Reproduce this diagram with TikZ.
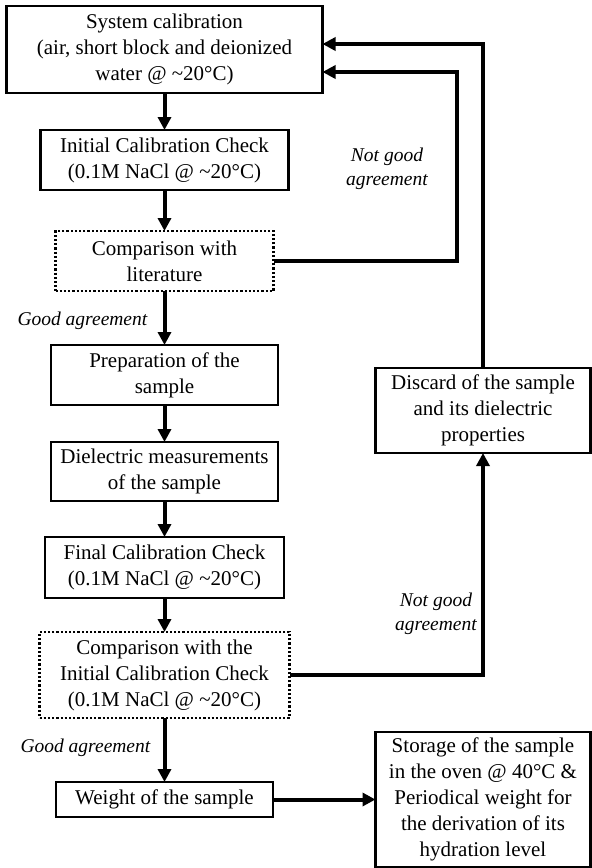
\documentclass[tikz,border=0pt]{standalone}
\usepackage{fontspec}
\setmainfont{Liberation Serif}
\usetikzlibrary{arrows.meta,positioning}

\begin{document}
\begin{tikzpicture}[
font=\fontsize{21}{26}\selectfont,
node distance=37pt,
box/.style={draw, line width=2.8pt, align=center, inner sep=3pt, outer sep=0pt},
dotbox/.style={box, dash pattern=on 2.2pt off 2pt},
lbl/.style={font=\fontsize{19.5}{24}\selectfont\itshape, align=center},
arr/.style={-{Triangle[length=13pt,width=13pt]}, line width=4pt}
]
\useasboundingbox (0pt,0pt) rectangle (592pt,-868pt);
\node[box, minimum width=316pt, minimum height=87pt] (sys) at (164.5pt,-49.5pt) {System calibration\\(air, short block and deionized\\water @ \textasciitilde20°C)};
\node[box, minimum width=248pt, minimum height=60pt, below=37pt of sys] (init) {Initial Calibration Check\\(0.1M NaCl @ \textasciitilde20°C)};
\node[dotbox, minimum width=218pt, minimum height=60pt, below=41pt of init] (lit) {Comparison with\\literature};
\node[box, minimum width=227pt, minimum height=60pt, below=54pt of lit] (prep) {Preparation of the\\sample};
\node[box, minimum width=227pt, minimum height=59pt, below=37pt of prep] (diel) {Dielectric measurements\\of the sample};
\node[box, minimum width=239pt, minimum height=61pt, below=36pt of diel] (final) {Final Calibration Check\\(0.1M NaCl @ \textasciitilde20°C)};
\node[dotbox, minimum width=250pt, minimum height=86pt, below=34pt of final] (cmp) {Comparison with the\\Initial Calibration Check\\(0.1M NaCl @ \textasciitilde20°C)};
\node[box, minimum width=217pt, minimum height=35pt, below=64pt of cmp] (weight) {Weight of the sample};
\node[box, minimum width=215pt, minimum height=135pt, right=102.5pt of weight] (store) {Storage of the sample\\in the oven @ 40°C \&\\Periodical weight for\\the derivation of its\\hydration level};
\node[box, minimum width=215pt, minimum height=85pt, right=97.5pt of prep, yshift=-35.5pt] (discard) {Discard of the sample\\and its dielectric\\properties};
\node[lbl] (nogood1) at (387pt,-169pt) {Not good\\agreement};
\node[lbl, anchor=west] (good1) at (14pt,-321pt) {Good agreement};
\node[lbl] (nogood2) at (436pt,-614pt) {Not good\\agreement};
\node[lbl, anchor=west] (good2) at (17pt,-748pt) {Good agreement};
\draw[arr] (sys) -- (init);
\draw[arr] (init) -- (lit);
\draw[arr] (lit) -- (prep);
\draw[arr] (prep) -- (diel);
\draw[arr] (diel) -- (final);
\draw[arr] (final) -- (cmp);
\draw[arr] (cmp) -- (weight);
\draw[arr] (weight) -- (store);
\draw[arr] (lit.east) -- ++(183.5pt,0) |- ([yshift=-22.5pt]sys.east);
\draw[arr] (cmp.east) -| (discard.south);
\draw[arr] (discard.north) |- ([yshift=5.5pt]sys.east);
\end{tikzpicture}
\end{document}
